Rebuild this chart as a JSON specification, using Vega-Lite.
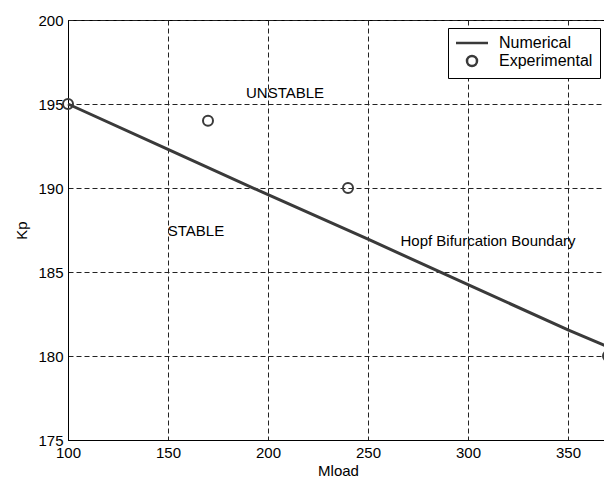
{
  "$schema": "https://vega.github.io/schema/vega-lite/v6.json",
  "width": 540,
  "height": 420,
  "autosize": {"type": "none"},
  "padding": {"left": 68, "top": 20, "right": 0, "bottom": 44},
  "background": "white",
  "config": {
    "font": "Liberation Sans",
    "view": {"stroke": "black", "strokeWidth": 1},
    "axis": {
      "domainColor": "black",
      "labelColor": "black",
      "titleColor": "black",
      "labelFontSize": 15,
      "titleFontSize": 15,
      "titleFontWeight": "normal",
      "labelFlush": false,
      "labelOverlap": false,
      "ticks": false,
      "grid": true,
      "gridColor": "#222222",
      "gridDash": [5, 3],
      "gridOpacity": 1,
      "gridWidth": 1
    }
  },
  "datasets": {
    "numerical": [
      {"Mload": 100, "Kp": 195.0, "series": "Numerical"},
      {"Mload": 150, "Kp": 192.3, "series": "Numerical"},
      {"Mload": 200, "Kp": 189.6, "series": "Numerical"},
      {"Mload": 250, "Kp": 186.95, "series": "Numerical"},
      {"Mload": 300, "Kp": 184.25, "series": "Numerical"},
      {"Mload": 350, "Kp": 181.55, "series": "Numerical"},
      {"Mload": 370, "Kp": 180.55, "series": "Numerical"}
    ],
    "experimental": [
      {"Mload": 100, "Kp": 195, "series": "Experimental"},
      {"Mload": 170, "Kp": 194, "series": "Experimental"},
      {"Mload": 240, "Kp": 190, "series": "Experimental"},
      {"Mload": 370, "Kp": 180, "series": "Experimental"}
    ],
    "labels": [
      {"Mload": 208.5, "Kp": 195.65, "label": "UNSTABLE"},
      {"Mload": 164, "Kp": 187.45, "label": "STABLE"},
      {"Mload": 310, "Kp": 186.85, "label": "Hopf Bifurcation Boundary"}
    ]
  },
  "encoding": {
    "x": {
      "field": "Mload",
      "type": "quantitative",
      "scale": {"domain": [100, 370], "nice": false, "zero": false},
      "axis": {
        "values": [100, 150, 200, 250, 300, 350],
        "title": "Mload",
        "labelPadding": 5,
        "titlePadding": 3
      }
    },
    "y": {
      "field": "Kp",
      "type": "quantitative",
      "scale": {"domain": [175, 200], "nice": false, "zero": false},
      "axis": {
        "values": [175, 180, 185, 190, 195, 200],
        "title": "Kp",
        "labelPadding": 5,
        "titlePadding": 8
      }
    }
  },
  "layer": [
    {
      "data": {"name": "numerical"},
      "mark": {"type": "line", "color": "#3a3a3a", "strokeWidth": 3, "clip": false},
      "encoding": {}
    },
    {
      "data": {"name": "experimental"},
      "mark": {"type": "point", "filled": false, "color": "#3a3a3a", "strokeWidth": 2, "opacity": 1, "size": 100, "clip": false},
      "encoding": {
        "shape": {
          "field": "series",
          "type": "nominal",
          "scale": {"domain": ["Numerical", "Experimental"], "range": ["M-3.2,0H3.2", "M-1,0A1,1,0,1,1,1,0A1,1,0,1,1,-1,0Z"]},
          "legend": {
            "title": null,
            "orient": "top-right",
            "offset": 8,
            "strokeColor": "black",
            "fillColor": "white",
            "padding": 7,
            "labelFontSize": 16,
            "labelColor": "black",
            "symbolSize": 100,
            "symbolStrokeColor": "#3a3a3a",
            "symbolStrokeWidth": 2.5,
            "symbolFillColor": "transparent",
            "symbolOffset": 9,
            "rowPadding": 0,
            "labelOffset": 19
          }
        }
      }
    },
    {
      "data": {"name": "labels"},
      "mark": {"type": "text", "fontSize": 15, "color": "black", "align": "center", "baseline": "middle"},
      "encoding": {"text": {"field": "label", "type": "nominal"}}
    }
  ]
}
